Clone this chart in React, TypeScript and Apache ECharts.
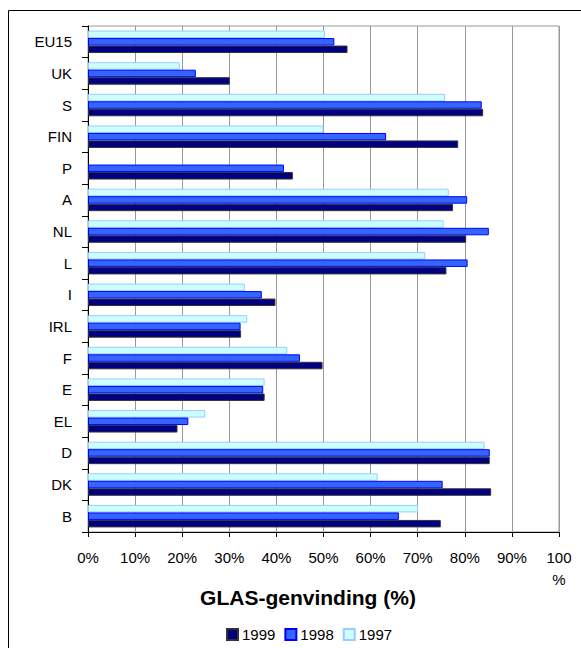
import React, { useEffect, useRef } from "react";
import * as echarts from "echarts";

const categories = ["B", "DK", "D", "EL", "E", "F", "IRL", "I", "L", "NL", "A", "P", "FIN", "S", "UK", "EU15"];
const values1999 = [74.9, 85.6, 85.3, 19.0, 37.5, 49.8, 32.5, 39.8, 76.1, 80.3, 77.5, 43.5, 78.6, 83.9, 30.1, 55.1];
const values1998 = [66.0, 75.3, 85.3, 21.3, 37.2, 45.0, 32.4, 36.9, 80.6, 85.1, 80.5, 41.6, 63.3, 83.6, 22.9, 52.3];
const values1997 = [70.1, 61.5, 84.2, 24.9, 37.5, 42.3, 33.8, 33.3, 71.6, 75.5, 76.6, null, 50.0, 75.8, 19.5, 50.3];
const legendOrder = ["1999", "1998", "1997"];
const titleText = "GLAS-genvinding (%)";

const FONT = "'Liberation Sans', Arial, Helvetica, sans-serif";

export default function App() {
  const ref = useRef<HTMLDivElement>(null);
  useEffect(() => {
    if (!ref.current) return;
    const chart = echarts.init(ref.current, undefined, { renderer: "svg" });
    chart.setOption({
      animation: false,
      backgroundColor: "#ffffff",
      textStyle: { fontFamily: FONT },
      grid: {
        left: 88,
        top: 26,
        right: 22,
        bottom: 116,
        show: true,
        borderColor: "#999999",
        borderWidth: 1,
        containLabel: false,
        outerBoundsMode: "none",
      },
      xAxis: {
        type: "value",
        min: 0,
        max: 100,
        interval: 10,
        axisLine: { show: true, lineStyle: { color: "#000", width: 1 } },
        axisTick: { show: true, length: 5, lineStyle: { color: "#000" } },
        splitLine: { show: true, lineStyle: { color: "#999999", width: 1 } },
        axisLabel: {
          color: "#000",
          fontSize: 15,
          fontFamily: FONT,
          margin: 14,
          lineHeight: 22,
          formatter: (v: number) => (v === 100 ? "100\n%" : v + "%"),
        },
      },
      yAxis: {
        type: "category",
        data: categories,
        axisLine: { show: true, lineStyle: { color: "#000", width: 1 } },
        axisTick: { show: true, length: 6, lineStyle: { color: "#000" } },
        splitLine: { show: false },
        axisLabel: { color: "#000", fontSize: 15, fontFamily: FONT, margin: 16 },
      },
      legend: {
        data: legendOrder,
        left: 226,
        top: 627,
        padding: 0,
        icon: "rect",
        itemWidth: 11,
        itemHeight: 11,
        itemGap: 9,
        textStyle: { color: "#000", fontSize: 15, fontFamily: FONT, padding: [0, 0, 0, -1] },
      },
      graphic: [
        {
          type: "rect",
          shape: { x: 8.5, y: 10.5, width: 800, height: 800 },
          style: { fill: "none", stroke: "#000", lineWidth: 1 },
          silent: true,
        },
        {
          type: "text",
          x: 308,
          y: 597,
          style: {
            text: titleText,
            fill: "#000",
            fontSize: 21,
            fontWeight: "bold",
            fontFamily: FONT,
            textAlign: "center",
            textVerticalAlign: "middle",
          },
        },
      ],
      series: [
        {
          name: "1997",
          type: "bar",
          data: values1997,
          barCategoryGap: "29%",
          barGap: "0%",
          itemStyle: { color: "#CCFFFF", borderColor: "#99CCFF", borderWidth: 1 },
        },
        {
          name: "1998",
          type: "bar",
          data: values1998,
          barCategoryGap: "29%",
          barGap: "0%",
          itemStyle: { color: "#3366FF", borderColor: "#0000FF", borderWidth: 1 },
        },
        {
          name: "1999",
          type: "bar",
          data: values1999,
          barCategoryGap: "29%",
          barGap: "0%",
          itemStyle: { color: "#000080", borderColor: "#333333", borderWidth: 1 },
        },
      ],
    });
    return () => chart.dispose();
  }, []);
  return (
    <div
      ref={ref}
      style={{ position: "fixed", left: 0, top: 0, width: 581, height: 648, background: "#fff" }}
    />
  );
}
